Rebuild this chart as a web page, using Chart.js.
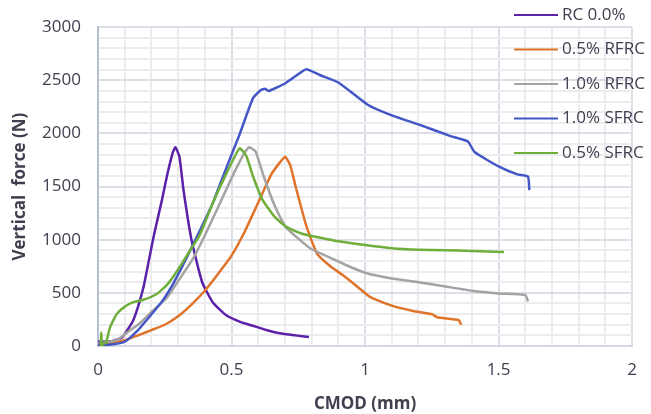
<!DOCTYPE html>
<html lang="en">
    <head>
        <meta charset="utf-8" />
        <script src="https://cdn.jsdelivr.net/npm/chart.js@4.4.1/dist/chart.umd.min.js"></script>
        <title>CMOD vs vertical force</title>
        <style>
            body { margin: 0; background: #fff; }
            #wrap { width: 651px; height: 414px; }
        </style>
    </head>
    <body>
        <div id="wrap"><canvas id="curvas"></canvas></div>
        <script>
            // series names (legend order)
            var seriesNames = ["RC 0.0%", "0.5% RFRC", "1.0% RFRC", "1.0% SFRC", "0.5% SFRC"];
            var seriesColors = ["#5b21a8", "#e0732a", "#a3a3a3", "#4456c6", "#6eae3a"];

            // RC 0.0%
            var rcX = [0, 0.05, 0.09, 0.11, 0.13, 0.15, 0.17, 0.19, 0.21, 0.24, 0.26, 0.28, 0.29, 0.305, 0.32, 0.35, 0.39, 0.43, 0.48, 0.53, 0.58, 0.63, 0.68, 0.74, 0.79];
            var rcY = [40, 45, 80, 150, 230, 370, 550, 800, 1050, 1380, 1620, 1820, 1870, 1780, 1470, 1000, 600, 410, 290, 230, 190, 150, 120, 100, 85];

            // 0.5% RFRC
            var rf05X = [0, 0.05, 0.1, 0.15, 0.2, 0.25, 0.3, 0.35, 0.4, 0.45, 0.5, 0.55, 0.6, 0.65, 0.7, 0.72, 0.74, 0.78, 0.82, 0.87, 0.92, 0.97, 1.02, 1.1, 1.18, 1.25, 1.27, 1.35, 1.36];
            var rf05Y = [20, 30, 55, 100, 150, 200, 280, 390, 520, 680, 850, 1080, 1350, 1620, 1780, 1700, 1500, 1130, 870, 750, 660, 560, 460, 380, 330, 300, 270, 245, 200];

            // 1.0% RFRC
            var rf10X = [0, 0.02, 0.07, 0.11, 0.156, 0.2, 0.257, 0.3, 0.355, 0.4, 0.454, 0.503, 0.54, 0.566, 0.59, 0.62, 0.66, 0.7, 0.75, 0.8, 0.87, 0.93, 1.0, 1.1, 1.2, 1.3, 1.4, 1.5, 1.6, 1.61];
            var rf10Y = [20, 30, 55, 130, 212, 320, 452, 610, 820, 1040, 1330, 1595, 1780, 1870, 1830, 1600, 1330, 1130, 1010, 910, 830, 760, 690, 635, 600, 560, 520, 495, 480, 420];

            // 1.0% SFRC
            var sf10X = [0, 0.05, 0.1, 0.15, 0.19, 0.24, 0.28, 0.32, 0.355, 0.39, 0.43, 0.454, 0.5, 0.53, 0.58, 0.61, 0.625, 0.64, 0.7, 0.74, 0.78, 0.83, 0.9, 1.01, 1.09, 1.2, 1.32, 1.385, 1.41, 1.5, 1.57, 1.61, 1.615];
            var sf10Y = [10, 15, 40, 150, 267, 420, 580, 770, 950, 1130, 1346, 1503, 1800, 1990, 2330, 2410, 2420, 2400, 2470, 2540, 2605, 2550, 2480, 2270, 2180, 2085, 1975, 1925, 1825, 1690, 1615, 1595, 1466];

            // 0.5% SFRC
            var sf05X = [0.01, 0.012, 0.015, 0.02, 0.03, 0.045, 0.07, 0.1, 0.13, 0.17, 0.22, 0.26, 0.3, 0.34, 0.38, 0.43, 0.48, 0.53, 0.555, 0.58, 0.615, 0.66, 0.7, 0.75, 0.79, 0.85, 0.9, 1.0, 1.1, 1.2, 1.3, 1.4, 1.52];
            var sf05Y = [0, 130, 0, 20, 30, 175, 300, 370, 410, 435, 490, 580, 720, 880, 1040, 1346, 1620, 1860, 1790, 1600, 1380, 1220, 1130, 1070, 1040, 1010, 985, 950, 920, 905, 900, 895, 885];

            var allX = [rcX, rf05X, rf10X, sf10X, sf05X];
            var allY = [rcY, rf05Y, rf10Y, sf10Y, sf05Y];

            // labelled ticks; minor gridlines every 0.1 mm / 100 N
            var xMajorTicks = [0, 0.5, 1, 1.5, 2];
            var yMajorTicks = [0, 500, 1000, 1500, 2000, 2500, 3000];

            var FONT = "'Open Sans', 'Liberation Sans', sans-serif";

            function marcas(max, paso) {
                var t = [];
                for (var k = 0; k * paso <= max + 1e-9; k++) t.push({ value: Math.round(k * paso * 1000) / 1000 });
                return t;
            }
            function esMayorX(v) { return xMajorTicks.indexOf(v) >= 0; }
            function esMayorY(v) { return yMajorTicks.indexOf(v) >= 0; }

            var datasets = seriesNames.map(function (nombre, i) {
                return {
                    label: nombre,
                    data: allX[i].map(function (x, j) { return { x: x, y: allY[i][j] }; }),
                    borderColor: seriesColors[i],
                    backgroundColor: seriesColors[i],
                    borderWidth: 2.5,
                    pointRadius: 0,
                    showLine: true,
                    tension: 0.15,
                    order: seriesNames.length - i
                };
            });

            // legend drawn on top of the plot, like the original
            var leyenda = {
                id: "leyenda",
                afterDraw: function (chart) {
                    var ctx = chart.ctx;
                    ctx.save();
                    ctx.font = "17px " + FONT;
                    ctx.textBaseline = "middle";
                    ctx.fillStyle = "#3f3f4f";
                    seriesNames.forEach(function (nombre, i) {
                        var y = 15 + i * 34.5;
                        ctx.strokeStyle = seriesColors[i];
                        ctx.lineWidth = 2;
                        ctx.beginPath();
                        ctx.moveTo(514, y);
                        ctx.lineTo(558, y);
                        ctx.stroke();
                        ctx.fillText(nombre, 562, y);
                    });
                    ctx.restore();
                }
            };

            new Chart(document.getElementById("curvas").getContext("2d"), {
                type: "scatter",
                data: { datasets: datasets },
                plugins: [leyenda],
                options: {
                    responsive: true,
                    maintainAspectRatio: false,
                    animation: false,
                    layout: { padding: { top: 20, right: 17, left: 0, bottom: 0 } },
                    plugins: {
                        legend: { display: false },
                        tooltip: { enabled: false }
                    },
                    scales: {
                        x: {
                            type: "linear",
                            min: 0,
                            max: 2,
                            afterFit: function (s) { s.height = 68; },
                            afterBuildTicks: function (s) { s.ticks = marcas(2, 0.1); },
                            ticks: {
                                autoSkip: false,
                                maxRotation: 0,
                                padding: 14,
                                color: "#3f3f4f",
                                font: { size: 17, family: FONT },
                                callback: function (v) { return esMayorX(v) ? String(v) : ""; }
                            },
                            grid: {
                                drawTicks: false,
                                color: function (c) { return c.tick && esMayorX(c.tick.value) ? "#dcdfe8" : "#ececef"; },
                                lineWidth: 2
                            },
                            border: { color: "#d4d8e2", width: 2 },
                            title: {
                                display: true,
                                text: "CMOD (mm)",
                                color: "#3f3f4f",
                                font: { size: 17, weight: "bold", family: FONT },
                                padding: { top: 0, bottom: 0 }
                            }
                        },
                        y: {
                            min: 0,
                            max: 3000,
                            afterFit: function (s) { s.width = 98; },
                            afterBuildTicks: function (s) { s.ticks = marcas(3000, 100); },
                            ticks: {
                                autoSkip: false,
                                padding: 17,
                                color: "#3f3f4f",
                                font: { size: 17, family: FONT },
                                callback: function (v) { return esMayorY(v) ? String(v) : ""; }
                            },
                            grid: {
                                drawTicks: false,
                                color: function (c) { return c.tick && esMayorY(c.tick.value) ? "#dcdfe8" : "#ececef"; },
                                lineWidth: 2
                            },
                            border: { color: "#b7bed0", width: 2 },
                            title: {
                                display: true,
                                text: "Vertical  force (N)",
                                color: "#3f3f4f",
                                font: { size: 17, weight: "bold", family: FONT },
                                padding: { top: 10, bottom: 0 }
                            }
                        }
                    }
                }
            });
        </script>
    </body>
</html>
